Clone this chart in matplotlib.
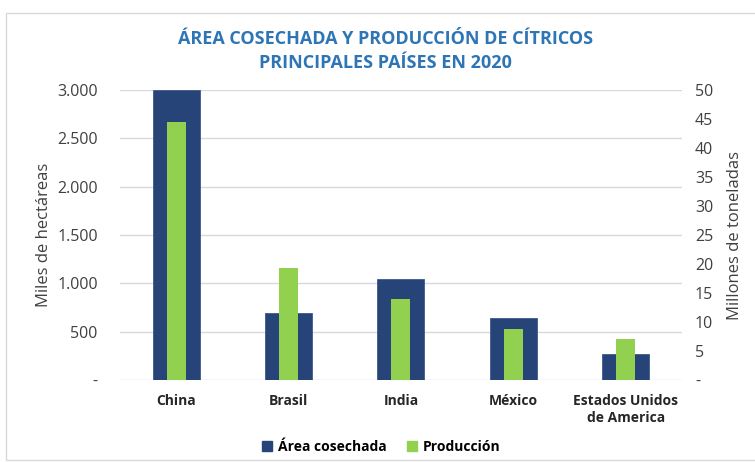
import matplotlib
matplotlib.use("Agg")
import matplotlib.pyplot as plt
from matplotlib.ticker import FuncFormatter
from matplotlib.patches import Rectangle, Patch
import numpy as np

plt.rcParams['font.family'] = ['Open Sans', 'DejaVu Sans']

# datos
paises = ['China', 'Brasil', 'India', 'México', 'Estados Unidos\nde America']
area = [3000, 690, 1048, 638, 269]          # miles de hectareas
produccion = [44.5, 19.3, 13.9, 8.85, 7.1]  # millones de toneladas

azul = '#264478'
verde = '#92D050'
gris = '#404040'

fig = plt.figure(figsize=(7.55, 4.62), dpi=100)
ax = fig.add_axes([0.159, 0.1775, 0.744, 0.6275])
ax2 = ax.twinx()

x = np.arange(len(paises))
ax.bar(x, area, width=0.42, color=azul, edgecolor='#3a5a8c', linewidth=0.6, zorder=2)
ax2.bar(x, produccion, width=0.17, color=verde, zorder=3)

ax.set_xlim(-0.5, len(paises) - 0.5)
ax.set_ylim(0, 3000)
ax2.set_ylim(0, 50)
ax.set_yticks(np.arange(0, 3001, 500))
ax2.set_yticks(np.arange(0, 51, 5))

def miles(v, pos):
    if v == 0:
        return '-'
    return f'{int(v):,}'.replace(',', '.')

ax.yaxis.set_major_formatter(FuncFormatter(miles))
ax2.yaxis.set_major_formatter(FuncFormatter(lambda v, p: '-' if v == 0 else f'{int(v)}'))

ax.grid(axis='y', color='#D9D9D9', linewidth=1, zorder=0)
ax.set_axisbelow(True)
for a in (ax, ax2):
    for s in a.spines.values():
        s.set_visible(False)
    a.tick_params(length=0)
ax.tick_params(axis='y', labelsize=11.5, labelcolor=gris, pad=16)
ax2.tick_params(axis='y', labelsize=11.5, labelcolor=gris, pad=9.5)

ax.set_xticks(x)
ax.set_xticklabels(paises, fontsize=10, fontweight='bold', color='#262626', linespacing=1.3)
ax.tick_params(axis='x', pad=10)

ax.set_ylabel('Miles de hectáreas', fontsize=12, color=gris, labelpad=4)
ax2.set_ylabel('Millones de toneladas', fontsize=12, color=gris, labelpad=10)

fig.text(0.511, 0.89, 'ÁREA COSECHADA Y PRODUCCIÓN DE CÍTRICOS\nPRINCIPALES PAÍSES EN 2020',
         ha='center', va='center', fontsize=13, fontweight='bold', color='#2E75B6',
         linespacing=1.45)

# leyenda
handles = [Patch(color=azul, label='Área cosechada'), Patch(color=verde, label='Producción')]
fig.legend(handles=handles, loc='center', bbox_to_anchor=(0.505, 0.033), ncol=2,
           frameon=False, handlelength=0.7, handleheight=0.7, handletextpad=0.4,
           columnspacing=1.5, prop={'size': 10, 'weight': 'bold'})

# borde del area del grafico
fig.patches.append(Rectangle((0.008, 0.005), 1.2, 0.967, transform=fig.transFigure,
                             fill=False, edgecolor='#D9D9D9', linewidth=1))

fig.savefig('out.png', dpi=100)
